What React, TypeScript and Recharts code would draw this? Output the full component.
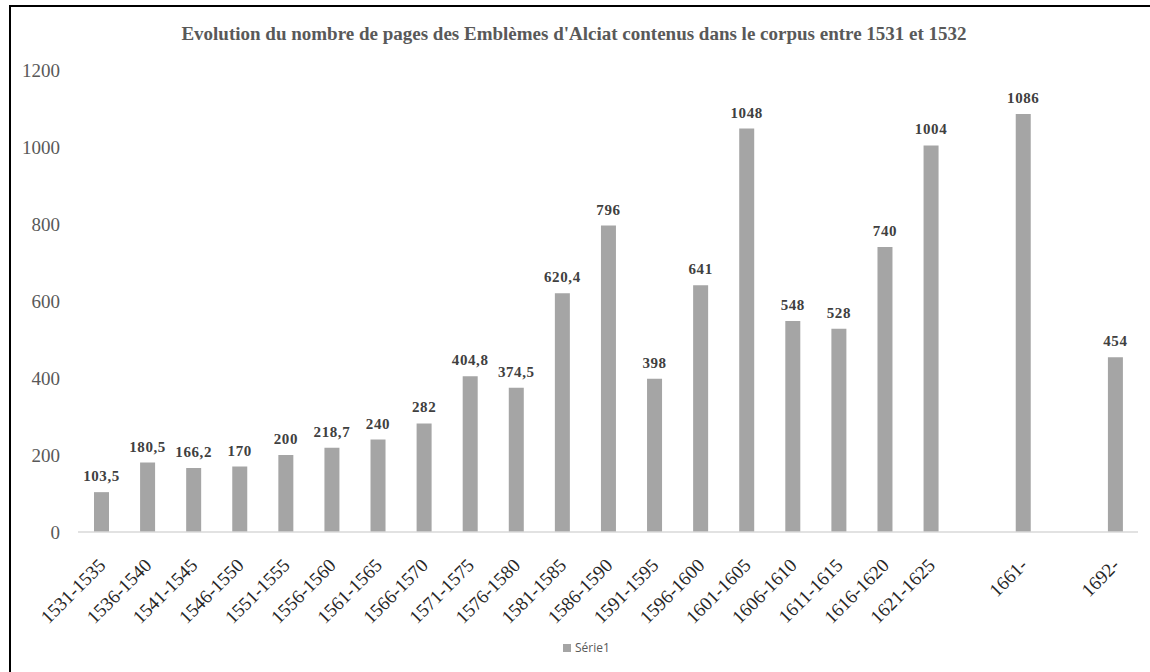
import React from 'react';
import { BarChart, Bar, XAxis, YAxis, LabelList, Legend } from 'recharts';

const categories = [
  '1531-1535', '1536-1540', '1541-1545', '1546-1550', '1551-1555', '1556-1560',
  '1561-1565', '1566-1570', '1571-1575', '1576-1580', '1581-1585', '1586-1590',
  '1591-1595', '1596-1600', '1601-1605', '1606-1610', '1611-1615', '1616-1620',
  '1621-1625', '', '1661-', ' ', '1692-',
];
const values: (number | null)[] = [
  103.5, 180.5, 166.2, 170, 200, 218.7, 240, 282, 404.8, 374.5, 620.4, 796,
  398, 641, 1048, 548, 528, 740, 1004, null, 1086, null, 454,
];
const yTicks = [0, 200, 400, 600, 800, 1000, 1200];
const seriesName = 'Série1';
const title = "Evolution du nombre de pages des Emblèmes d'Alciat contenus dans le corpus entre 1531 et 1532";

const data = categories.map((c, i) => ({ name: c, value: values[i] }));

const SERIF = '"Liberation Serif", "Times New Roman", serif';
const BAR = '#a5a5a5';

const XTick = (props: any) => {
  const { x, y, payload } = props;
  const tx = x + 1;
  const ty = y + 28;
  return (
    <text
      x={tx}
      y={ty}
      textAnchor="end"
      transform={`rotate(-45, ${tx}, ${ty})`}
      dominantBaseline="central"
      fontSize={19}
      fontFamily={SERIF}
      fill="#262626"
    >
      {payload.value}
    </text>
  );
};

const fmt = (v: any) => (v == null ? '' : String(v).replace('.', ','));

const LegendContent = () => (
  <div style={{ display: 'flex', alignItems: 'center', fontFamily: '"Open Sans", "Liberation Sans", sans-serif', fontSize: 12, color: '#595959' }}>
    <span style={{ display: 'inline-block', width: 8, height: 8, background: BAR, marginRight: 4 }} />
    <span>{seriesName}</span>
  </div>
);

export default function App() {
  return (
    <>
      <div
        style={{
          position: 'absolute', left: 9, top: 5, width: 1141, height: 667,
          borderTop: '2px solid #000', borderLeft: '2px solid #000', boxSizing: 'border-box',
        }}
      />
      <div
        style={{
          position: 'absolute', left: 0, top: 23, width: 1148, textAlign: 'center',
          fontFamily: SERIF, fontWeight: 'bold', fontSize: 19, color: '#595959',
        }}
      >
        {title}
      </div>
      <div style={{ position: 'absolute', left: 0, top: 0 }}>
        <BarChart width={1150} height={672} data={data} margin={{ top: 70, right: 12, left: 0, bottom: 0 }}>
          <XAxis
            dataKey="name"
            height={140}
            tickLine={false}
            tickSize={0}
            axisLine={{ stroke: '#d9d9d9', strokeWidth: 1.5 }}
            interval={0}
            tick={<XTick />}
          />
          <YAxis
            width={78}
            domain={[0, 1200]}
            ticks={yTicks}
            axisLine={false}
            tickLine={false}
            tickSize={0}
            tickMargin={18}
            tick={{ fontSize: 19, fontFamily: SERIF, fill: '#595959' }}
          />
          <Legend
            verticalAlign="middle"
            align="center"
            content={<LegendContent />}
            wrapperStyle={{ position: 'absolute', top: 639, left: 563, width: 80 }}
          />
          <Bar dataKey="value" name={seriesName} fill={BAR} barSize={15} isAnimationActive={false}>
            <LabelList
              dataKey="value"
              position="top"
              offset={11}
              formatter={fmt}
              style={{ fontSize: 15, fontWeight: 'bold', fontFamily: SERIF, fill: '#404040', letterSpacing: 0.6 }}
            />
          </Bar>
        </BarChart>
      </div>
    </>
  );
}
